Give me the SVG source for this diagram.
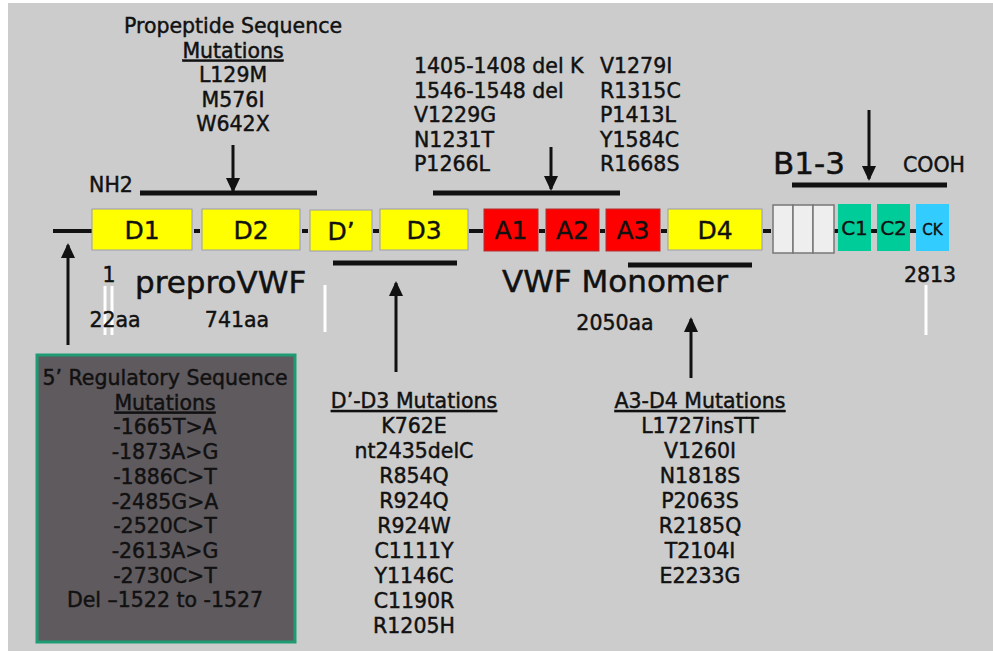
<svg xmlns="http://www.w3.org/2000/svg" width="993" height="651" viewBox="0 0 993 651">
<defs>
<style>
.t{font-family:"DejaVu Sans",Verdana,sans-serif;font-size:20.5px;fill:#111;stroke:#111;stroke-width:0.45px;text-anchor:middle}
.l{text-anchor:start}
.big{font-size:31px;stroke-width:0.5px}
.bx{font-family:"DejaVu Sans",Verdana,sans-serif;fill:#111;stroke:#111;stroke-width:0.4px;text-anchor:middle}
.bar{stroke:#111;stroke-width:5;fill:none}
.arr{stroke:#111;stroke-width:3;fill:none;marker-end:url(#ah)}
.chain{stroke:#111;stroke-width:4}
.wl{stroke:#fff;stroke-width:3}
.yel{fill:#ffff00;stroke:#9a9ab4;stroke-width:1}
.red{fill:#ff0000;stroke:#b03030;stroke-width:1}
.grn{fill:#00cc99}
.cyn{fill:#33ccff}
.wht{fill:#eeeeee;stroke:#777;stroke-width:1.5}
.u{text-decoration:underline}
</style>
<marker id="ah" markerUnits="userSpaceOnUse" markerWidth="16" markerHeight="18" viewBox="0 0 16 18" refX="13" refY="8" orient="auto">
<path d="M0,1 L15,8 L0,15 Z" fill="#111"/>
</marker>
</defs>
<rect x="0" y="0" width="993" height="651" fill="#ffffff"/>
<rect x="8" y="3" width="985" height="648" fill="#cccccc"/>

<g id="connectors">
<line class="chain" x1="53" y1="231" x2="92" y2="231"/>
<line class="chain" x1="194" y1="231" x2="200" y2="231"/>
<line class="chain" x1="302" y1="231" x2="308" y2="231"/>
<line class="chain" x1="373" y1="231" x2="379" y2="231"/>
<line class="chain" x1="469" y1="231" x2="483" y2="231"/>
<line class="chain" x1="539" y1="231" x2="545" y2="231"/>
<line class="chain" x1="600" y1="231" x2="605" y2="231"/>
<line class="chain" x1="661" y1="231" x2="667" y2="231"/>
<line class="chain" x1="763" y1="231" x2="771" y2="231"/>
<line class="chain" x1="834" y1="231" x2="838" y2="231"/>
<line class="chain" x1="871" y1="231" x2="877" y2="231"/>
<line class="chain" x1="910" y1="231" x2="916" y2="231"/>
<line class="bar" x1="140" y1="193" x2="317" y2="193"/>
<line class="bar" x1="433" y1="193" x2="620" y2="193"/>
<line class="bar" x1="792" y1="185" x2="947" y2="185"/>
<line class="bar" x1="333" y1="263" x2="457" y2="263"/>
<line class="bar" x1="628" y1="265" x2="752" y2="265"/>
<line class="arr" x1="233" y1="145" x2="233" y2="191"/>
<line class="arr" x1="551" y1="147" x2="551" y2="189"/>
<line class="arr" x1="869" y1="110" x2="869" y2="179"/>
<line class="arr" x1="68" y1="345" x2="68" y2="245"/>
<line class="arr" x1="396" y1="372" x2="396" y2="283"/>
<line class="arr" x1="691" y1="378" x2="691" y2="319"/>
<line class="wl" x1="105" y1="286" x2="105" y2="335"/>
<line class="wl" x1="112" y1="286" x2="112" y2="335"/>
<line class="wl" x1="325" y1="285" x2="325" y2="332"/>
<line class="wl" x1="926" y1="285" x2="926" y2="335"/>
</g>

<g id="D1"><rect class="yel" x="92" y="209" width="100" height="41"/><text class="bx" x="142" y="239" font-size="25">D1</text></g>
<g id="D2"><rect class="yel" x="202" y="209" width="98" height="41"/><text class="bx" x="251" y="239" font-size="25">D2</text></g>
<g id="Dp"><rect class="yel" x="310" y="210" width="62" height="41"/><text class="bx" x="341" y="240" font-size="25">D’</text></g>
<g id="D3"><rect class="yel" x="380" y="209" width="88" height="41"/><text class="bx" x="424" y="239" font-size="25">D3</text></g>
<g id="A1"><rect class="red" x="484" y="209" width="54" height="42"/><text class="bx" x="511" y="239" font-size="25">A1</text></g>
<g id="A2"><rect class="red" x="546" y="209" width="53" height="42"/><text class="bx" x="572.5" y="239" font-size="25">A2</text></g>
<g id="A3"><rect class="red" x="606" y="209" width="54" height="42"/><text class="bx" x="633" y="239" font-size="25">A3</text></g>
<g id="D4"><rect class="yel" x="668" y="209" width="94" height="41"/><text class="bx" x="715" y="239" font-size="25">D4</text></g>
<g id="B"><rect class="wht" x="773" y="205" width="20" height="48"/><rect class="wht" x="793" y="205" width="20" height="48"/><rect class="wht" x="813" y="205" width="21" height="48"/></g>
<g id="C1"><rect class="grn" x="838" y="204" width="33" height="47"/><text class="bx" x="854.5" y="235" font-size="20">C1</text></g>
<g id="C2"><rect class="grn" x="877" y="204" width="33" height="47"/><text class="bx" x="893.5" y="235" font-size="20">C2</text></g>
<g id="CK"><rect class="cyn" x="916" y="204" width="33" height="47"/><text class="bx" x="932.5" y="235" font-size="15">CK</text></g>

<g id="labels">
<text class="t" x="111" y="192">NH2</text>
<text class="t" x="934" y="172">COOH</text>
<text class="t big l" x="773" y="174">B1-3</text>
<text class="t" x="109" y="282" font-size="18">1</text>
<text class="t big l" x="135" y="293">preproVWF</text>
<text class="t big l" x="502" y="292">VWF Monomer</text>
<text class="t" x="115" y="327">22aa</text>
<text class="t" x="237" y="327">741aa</text>
<text class="t" x="615" y="330">2050aa</text>
<text class="t" x="930" y="282">2813</text>
</g>

<g id="propeptide">
<text class="t" x="233" y="33">Propeptide Sequence</text>
<text class="t u" x="233" y="57.6">Mutations</text>
<text class="t" x="233" y="82.2">L129M</text>
<text class="t" x="233" y="106.8">M576I</text>
<text class="t" x="233" y="131.4">W642X</text>
</g>

<g id="A-mutations">
<text class="t l" x="414" y="73">1405-1408 del K</text>
<text class="t l" x="414" y="97.5">1546-1548 del</text>
<text class="t l" x="414" y="122">V1229G</text>
<text class="t l" x="414" y="146.5">N1231T</text>
<text class="t l" x="414" y="171">P1266L</text>
<text class="t l" x="600" y="73">V1279I</text>
<text class="t l" x="600" y="97.5">R1315C</text>
<text class="t l" x="600" y="122">P1413L</text>
<text class="t l" x="600" y="146.5">Y1584C</text>
<text class="t l" x="600" y="171">R1668S</text>
</g>

<g id="regulatory">
<rect x="37" y="355" width="258" height="287" fill="#5f5a5e" stroke="#1e9b72" stroke-width="3"/>
<text class="t" x="165" y="385">5’ Regulatory Sequence</text>
<text class="t u" x="165" y="409.7">Mutations</text>
<text class="t" x="165" y="434.4">-1665T&gt;A</text>
<text class="t" x="165" y="459.1">-1873A&gt;G</text>
<text class="t" x="165" y="483.8">-1886C&gt;T</text>
<text class="t" x="165" y="508.5">-2485G&gt;A</text>
<text class="t" x="165" y="533.2">-2520C&gt;T</text>
<text class="t" x="165" y="557.9">-2613A&gt;G</text>
<text class="t" x="165" y="582.6">-2730C&gt;T</text>
<text class="t" x="165" y="607.3">Del –1522 to -1527</text>
</g>

<g id="DpD3-mutations">
<text class="t u" x="414" y="408">D’-D3 Mutations</text>
<text class="t" x="414" y="433">K762E</text>
<text class="t" x="414" y="458">nt2435delC</text>
<text class="t" x="414" y="483">R854Q</text>
<text class="t" x="414" y="508">R924Q</text>
<text class="t" x="414" y="533">R924W</text>
<text class="t" x="414" y="558">C1111Y</text>
<text class="t" x="414" y="583">Y1146C</text>
<text class="t" x="414" y="608">C1190R</text>
<text class="t" x="414" y="633">R1205H</text>
</g>

<g id="A3D4-mutations">
<text class="t u" x="700" y="408">A3-D4 Mutations</text>
<text class="t" x="700" y="433">L1727insTT</text>
<text class="t" x="700" y="458">V1260I</text>
<text class="t" x="700" y="483">N1818S</text>
<text class="t" x="700" y="508">P2063S</text>
<text class="t" x="700" y="533">R2185Q</text>
<text class="t" x="700" y="558">T2104I</text>
<text class="t" x="700" y="583">E2233G</text>
</g>
</svg>
